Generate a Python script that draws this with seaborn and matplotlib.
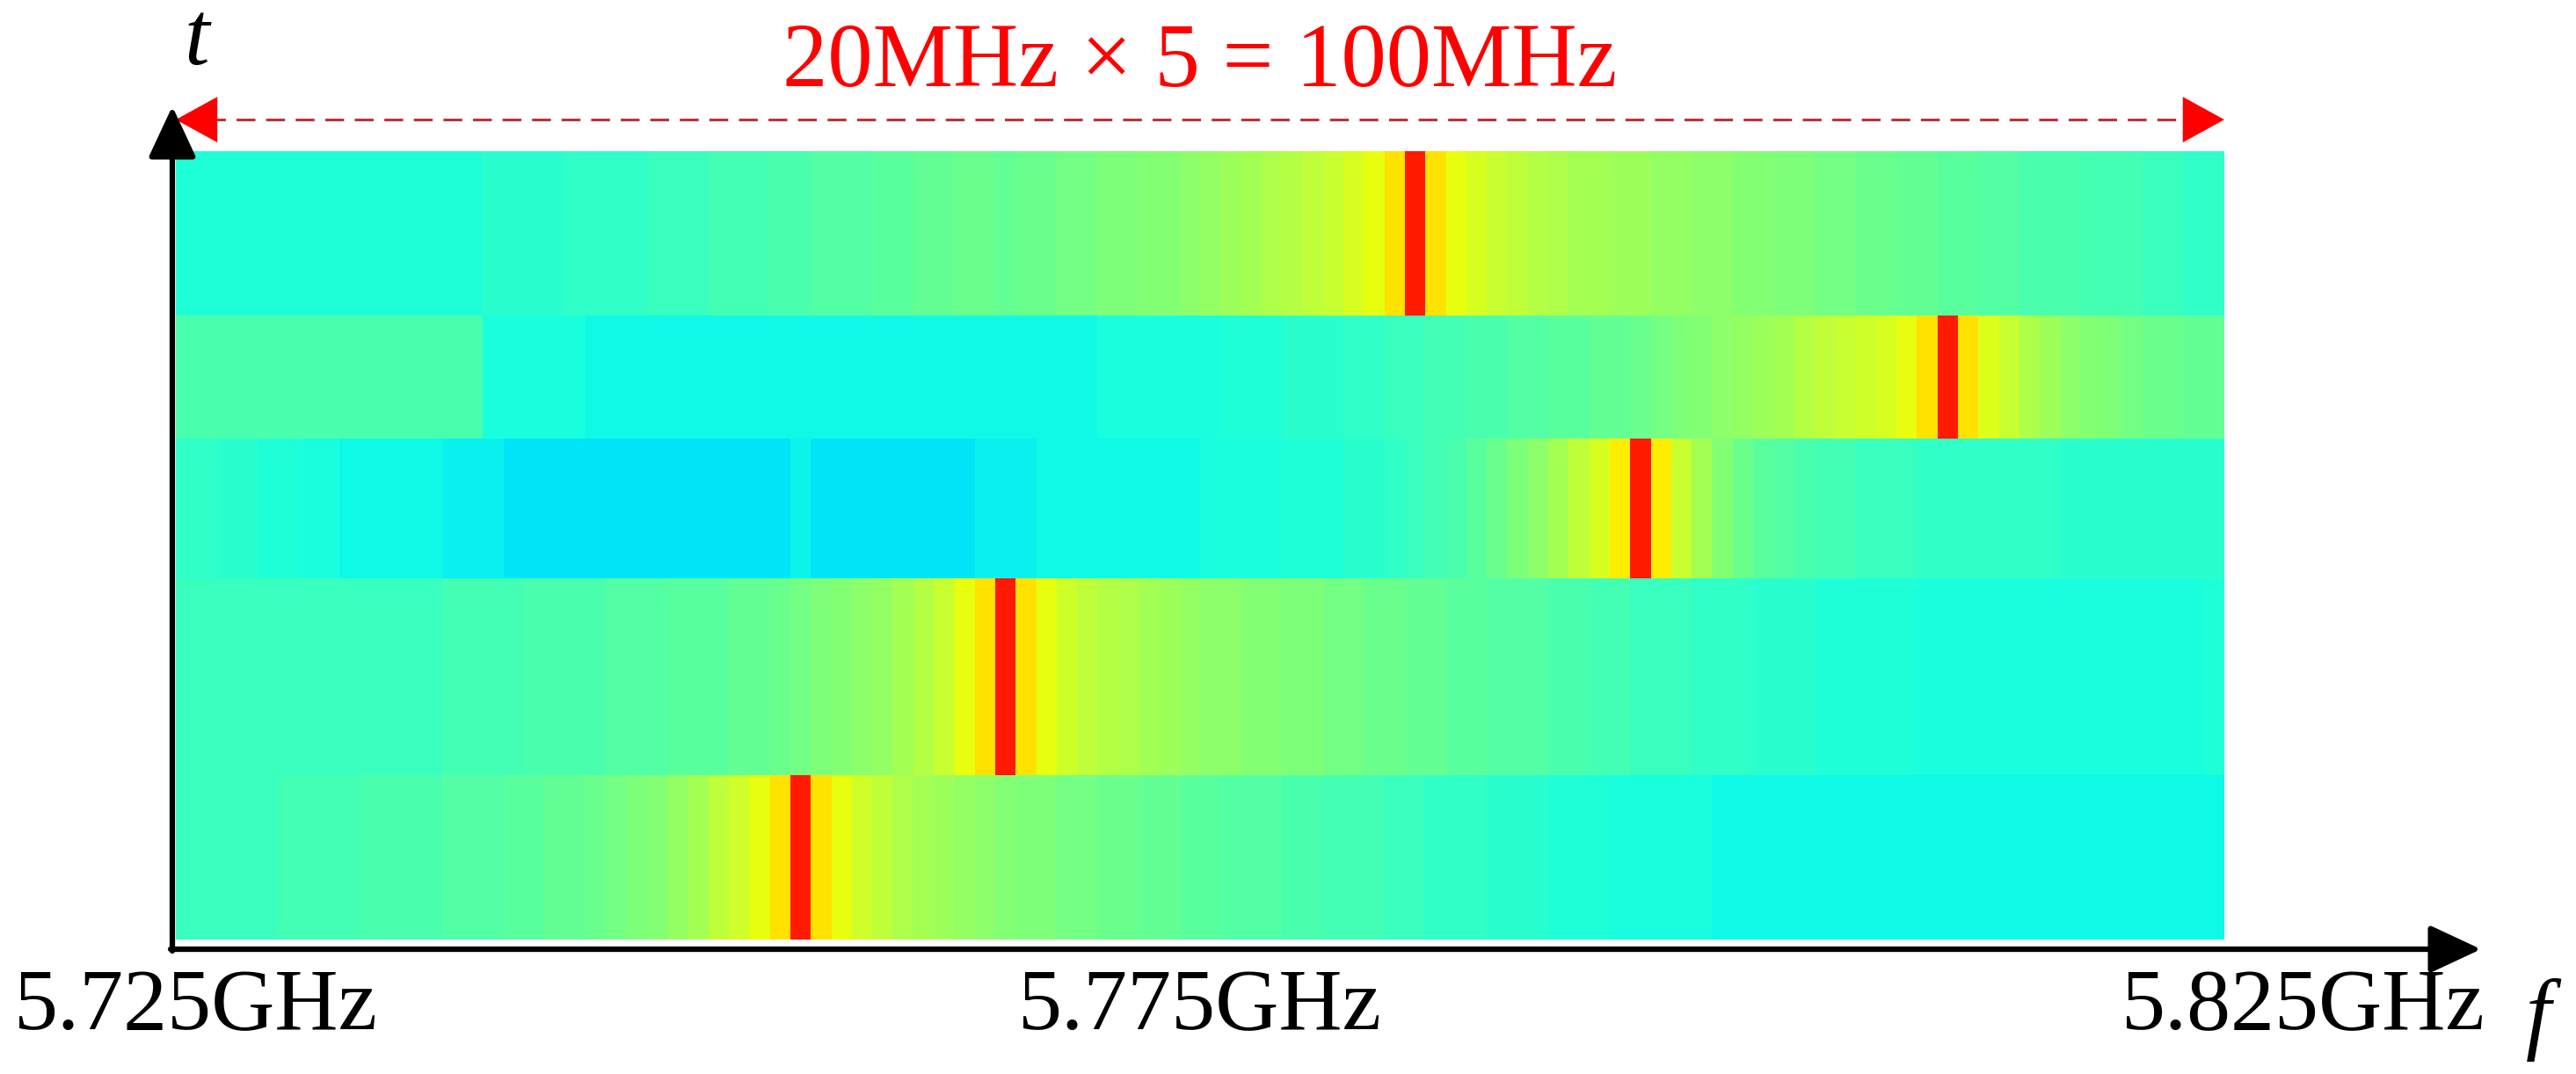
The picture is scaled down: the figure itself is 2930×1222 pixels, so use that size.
import numpy as np
import pandas as pd
import seaborn as sns
import matplotlib.pyplot as plt
import matplotlib.transforms as mtransforms

# frequency axis: 1 MHz bins, 5.725 GHz .. 5.825 GHz
freq_start = 5.725
freq_step = 0.001
n_bins = 100
tick_freqs = [5.725, 5.775, 5.825]
tick_labels = ['5.725GHz', '5.775GHz', '5.825GHz']
band_text = '20MHz \u00d7 5 = 100MHz'

# duration of each hop (time slots), first hop is the bottom row
hop_durations = [20, 24, 17, 15, 20]

# jet level per 1 MHz bin
hop1 = [.42, .42, .42, .42, .42, .43, .43, .43, .43, .44,
        .44, .44, .44, .45, .45, .45, .46, .46, .47, .47,
        .48, .49, .50, .51, .53, .55, .58, .60, .63, .67,
        .88, .67, .63, .60, .58, .56, .55, .54, .53, .52,
        .51, .50, .50, .49, .49, .48, .48, .47, .47, .46,
        .46, .45, .45, .45, .44, .44, .43, .43, .43, .42,
        .42, .41, .41, .41, .40, .40, .40, .39, .39, .39,
        .38, .38, .38, .38, .38, .37, .37, .37, .37, .37,
        .37, .37, .37, .37, .37, .37, .37, .37, .37, .37,
        .37, .37, .37, .37, .37, .37, .37, .37, .37, .37]
hop2 = [.42, .42, .42, .42, .42, .42, .42, .42, .42, .42,
        .42, .42, .42, .43, .43, .43, .43, .44, .44, .44,
        .44, .45, .45, .45, .46, .46, .46, .47, .47, .48,
        .49, .50, .51, .52, .53, .55, .57, .59, .63, .67,
        .88, .67, .63, .60, .58, .57, .56, .55, .54, .53,
        .52, .52, .51, .51, .50, .50, .49, .49, .48, .48,
        .47, .47, .46, .46, .45, .45, .45, .44, .44, .43,
        .43, .42, .42, .42, .41, .41, .41, .40, .40, .40,
        .39, .39, .39, .39, .39, .38, .38, .38, .38, .38,
        .38, .38, .38, .38, .38, .38, .38, .38, .38, .39]
hop3 = [.41, .41, .40, .40, .39, .39, .38, .38, .37, .37,
        .37, .37, .37, .36, .36, .36, .35, .35, .35, .35,
        .35, .35, .35, .35, .35, .35, .35, .35, .35, .35,
        .365, .35, .35, .35, .35, .35, .35, .35, .35, .36,
        .36, .36, .37, .37, .37, .37, .37, .37, .37, .37,
        .38, .38, .38, .38, .39, .39, .39, .40, .40, .41,
        .42, .43, .44, .46, .48, .50, .52, .55, .58, .61,
        .66, .88, .66, .59, .55, .51, .48, .46, .45, .44,
        .43, .43, .42, .42, .42, .41, .41, .41, .41, .41,
        .41, .41, .40, .40, .40, .40, .40, .40, .40, .40]
hop4 = [.44, .44, .44, .44, .44, .44, .44, .44, .44, .44,
        .44, .44, .44, .44, .44, .38, .38, .38, .38, .38,
        .37, .37, .37, .37, .37, .37, .37, .37, .37, .37,
        .37, .37, .37, .37, .37, .37, .37, .37, .37, .37,
        .37, .37, .37, .37, .37, .38, .38, .38, .38, .38,
        .38, .39, .39, .39, .40, .40, .40, .41, .41, .42,
        .42, .43, .43, .44, .44, .45, .45, .46, .46, .47,
        .47, .48, .49, .50, .51, .52, .53, .54, .55, .57,
        .58, .59, .60, .61, .63, .67, .88, .67, .62, .59,
        .56, .54, .52, .51, .50, .49, .48, .48, .47, .47]
hop5 = [.39, .39, .39, .39, .39, .39, .39, .39, .39, .39,
        .39, .39, .39, .39, .39, .40, .40, .40, .40, .41,
        .41, .41, .41, .42, .42, .42, .43, .43, .43, .44,
        .44, .45, .45, .45, .46, .46, .47, .47, .48, .48,
        .47, .48, .48, .49, .49, .50, .50, .51, .51, .52,
        .53, .54, .55, .56, .57, .58, .59, .61, .63, .67,
        .88, .67, .63, .61, .59, .58, .57, .56, .55, .55,
        .54, .54, .53, .53, .52, .52, .51, .51, .50, .50,
        .49, .49, .48, .48, .47, .47, .46, .46, .45, .45,
        .44, .44, .44, .43, .43, .43, .42, .42, .41, .41]

hops = [hop1, hop2, hop3, hop4, hop5]
freqs = np.round(freq_start + freq_step * np.arange(n_bins), 3)

# heatmap draws row 0 on top -> latest hop first
grid = np.repeat(np.array(hops[::-1]), hop_durations[::-1], axis=0)
spec = pd.DataFrame(grid, columns=freqs)

sns.set_style('white')
plt.rcParams['font.family'] = ['Liberation Serif', 'DejaVu Serif']
plt.rcParams['text.color'] = 'black'
plt.rcParams['xtick.color'] = 'black'

W, H = 2930, 1222
fig = plt.figure(figsize=(W / 100, H / 100), dpi=100)
x0, x1, y0, y1 = 200, 2530, 172, 1069   # heatmap box in pixels
ax = fig.add_axes([x0 / W, 1 - y1 / H, (x1 - x0) / W, (y1 - y0) / H])
sns.heatmap(spec, cmap='jet', vmin=0, vmax=1, cbar=False,
            xticklabels=False, yticklabels=False, ax=ax)

# frequency labels under the axis
tick_pos = [(f - freq_start) / freq_step for f in tick_freqs]
ax.set_xticks(tick_pos)
ax.set_xticklabels(tick_labels, fontsize=72)
ax.tick_params(axis='x', length=0, pad=24)
labs = ax.get_xticklabels()
for lab, dx in [(labs[0], 0.23), (labs[2], 0.9)]:
    lab.set_transform(lab.get_transform() +
                      mtransforms.ScaledTranslation(dx, 0, fig.dpi_scale_trans))

# 100 MHz span arrow with label
tr = ax.get_xaxis_transform()
ax.plot([1.5, n_bins - 1.5], [1.04, 1.04], transform=tr, clip_on=False,
        color='#c0303a', lw=2.2, ls=(0, (7, 4)))
for a, b in [(0, 1.8), (n_bins, n_bins - 1.8)]:
    ax.annotate('', xy=(a, 1.04), xytext=(b, 1.04), xycoords=tr, textcoords=tr,
                arrowprops=dict(arrowstyle='-|>,head_length=1.0,head_width=0.55',
                                mutation_scale=34, color='red', lw=0,
                                shrinkA=0, shrinkB=0))
ax.text(n_bins / 2, 1.11, band_text, transform=tr, ha='center', va='center',
        color='red', fontsize=74)

# t / f axes with arrow heads
ov = fig.add_axes([0, 0, 1, 1], zorder=5)
ov.set_xlim(0, W)
ov.set_ylim(H, 0)
ov.axis('off')
ov.patch.set_alpha(0)
head = dict(arrowstyle='-|>,head_length=0.9,head_width=0.42', mutation_scale=40,
            color='black', lw=4.5, shrinkA=0, shrinkB=0)
ov.annotate('', xy=(196, 121), xytext=(196, 1082), arrowprops=head)
ov.annotate('', xy=(2822, 1080), xytext=(194, 1080), arrowprops=head)
ov.text(224, 48, 't', fontsize=74, style='italic', ha='center', va='center')
ov.text(2887, 1160, 'f', fontsize=74, style='italic', ha='center', va='center')

fig.savefig('out.png', dpi=100)
